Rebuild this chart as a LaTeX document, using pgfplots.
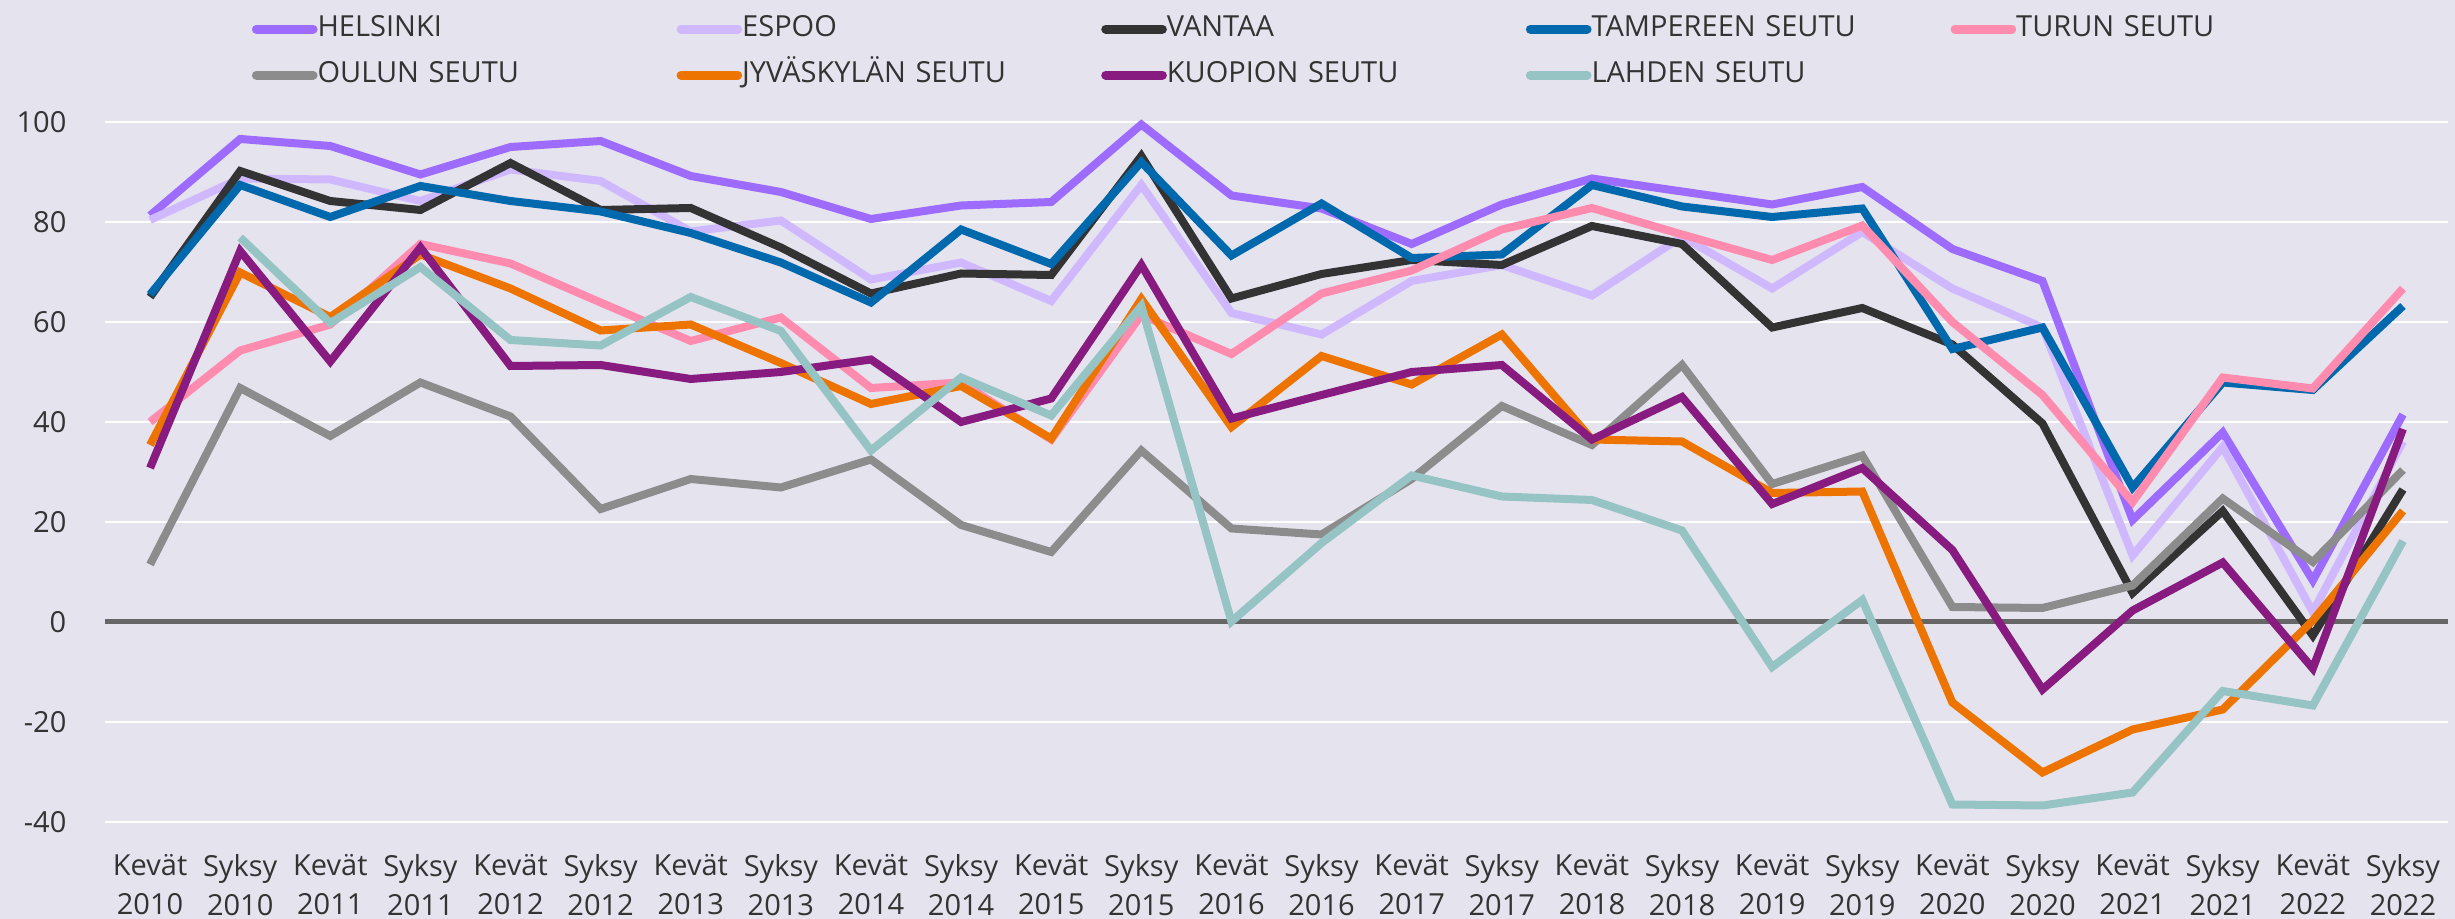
\documentclass[border=0pt]{standalone}
\usepackage{pgfplots}
\usepackage{pgfplotstable}
\usepackage{fontspec}
\setmainfont{Open Sans}
\pgfplotsset{compat=1.18}
\definecolor{bg}{HTML}{E5E3EE}
\definecolor{txt}{HTML}{333333}
\definecolor{cHel}{HTML}{9E6BFF}
\definecolor{cEsp}{HTML}{D0B8FF}
\definecolor{cVan}{HTML}{333333}
\definecolor{cTam}{HTML}{0069AE}
\definecolor{cTur}{HTML}{FF8BAE}
\definecolor{cOul}{HTML}{8C8C8C}
\definecolor{cJyv}{HTML}{EE7402}
\definecolor{cKuo}{HTML}{871B7F}
\definecolor{cLah}{HTML}{96C4C4}
\definecolor{zeroc}{HTML}{666666}

\pgfplotstableread{
x hel esp van tam tur oul jyv kuo lah
0 81.3 80.4 65.0 65.5 40.0 11.5 35.4 30.8 nan
1 96.6 88.7 90.2 87.4 54.3 46.8 69.9 74.2 76.9
2 95.2 88.5 84.2 81.0 59.5 37.2 61.0 52.1 59.8
3 89.5 84.2 82.4 87.2 75.6 47.9 73.5 74.9 71.0
4 95.0 90.5 91.8 84.2 71.7 41.1 66.7 51.2 56.4
5 96.2 88.2 82.4 82.1 63.9 22.6 58.3 51.4 55.3
6 89.2 78.1 82.8 77.8 56.2 28.6 59.5 48.6 65.0
7 86.0 80.3 74.9 71.9 60.9 26.9 51.8 50.0 58.2
8 80.6 68.5 65.7 63.9 46.8 32.5 43.6 52.5 34.3
9 83.3 71.9 69.7 78.5 47.9 19.4 47.2 40.0 48.9
10 84.0 64.2 69.4 71.6 36.5 14.0 36.7 44.7 41.3
11 99.5 87.4 93.2 92.0 61.4 34.3 64.6 71.4 63.2
12 85.3 61.8 64.7 73.3 53.6 18.7 39.0 40.7 0.1
13 82.7 57.5 69.6 83.7 65.7 17.5 53.2 45.4 15.8
14 75.6 68.2 72.4 72.8 70.3 28.6 47.5 50.0 29.3
15 83.5 71.4 71.4 73.5 78.5 43.2 57.5 51.4 25.1
16 88.7 65.3 79.2 87.4 82.8 35.4 36.5 36.5 24.4
17 86.1 77.1 75.6 83.1 77.5 51.4 36.1 45.0 18.3
18 83.5 66.7 58.9 81.0 72.4 27.6 25.8 23.6 -9.0
19 87.0 78.0 62.8 82.7 79.3 33.3 26.1 30.8 4.4
20 74.6 66.7 55.5 54.6 60.0 3.0 -16.1 14.4 -36.5
21 68.2 58.9 39.7 58.9 45.4 2.8 -30.1 -13.5 -36.7
22 20.4 13.3 5.8 26.9 24.0 7.3 -21.5 2.3 -34.1
23 37.9 35.0 22.2 47.9 48.9 24.7 -17.5 11.9 -13.8
24 8.3 2.0 -2.7 46.4 46.7 12.0 0.3 -9.3 -16.7
25 41.5 36.1 26.5 63.2 66.7 30.4 22.2 38.6 16.2
}\data

\begin{document}
\begin{tikzpicture}
\fill[bg] (0,0) rectangle (736.5pt,275.7pt);
\path[use as bounding box] (0,0) rectangle (736.5pt,275.7pt);
\begin{axis}[
  at={(31.5pt,29.1pt)}, anchor=south west,
  scale only axis, width=702.9pt, height=210pt,
  xmin=-0.5, xmax=25.5, ymin=-40, ymax=100,
  clip=false,
  axis line style={draw=none},
  tick style={draw=none},
  ytick={-40,-20,0,20,40,60,80,100},
  ymajorgrids, grid style={white, line width=0.6pt},
  xtick={0,...,25},
  xticklabels={{Kevät\\2010},{Syksy\\2010},{Kevät\\2011},{Syksy\\2011},{Kevät\\2012},{Syksy\\2012},{Kevät\\2013},{Syksy\\2013},{Kevät\\2014},{Syksy\\2014},{Kevät\\2015},{Syksy\\2015},{Kevät\\2016},{Syksy\\2016},{Kevät\\2017},{Syksy\\2017},{Kevät\\2018},{Syksy\\2018},{Kevät\\2019},{Syksy\\2019},{Kevät\\2020},{Syksy\\2020},{Kevät\\2021},{Syksy\\2021},{Kevät\\2022},{Syksy\\2022}},
  /pgf/number format/assume math mode=true,
  tick label style={font=\fontsize{8.7}{11.6}\selectfont, text=txt},
  xticklabel style={align=center, anchor=north, inner sep=0pt, yshift=-9.5pt},
  yticklabel style={anchor=east, inner sep=0pt, xshift=-11.4pt},
  unbounded coords=jump,
  every axis plot/.append style={line width=2.4pt},
  legend columns=5,
  legend image code/.code={\draw[#1, line width=2.7pt, line cap=round] (0pt,0pt) -- (17pt,0pt);},
  legend style={at={(0.0627,1.153)}, anchor=north west, draw=none, fill=none,
    inner sep=0pt, outer sep=0pt, text=txt,
    font=\fontsize{8.7}{10}\selectfont,
    nodes={inner sep=0pt, text height=6.5pt, text depth=2pt},
    row sep=5.3pt, column sep=0pt,
    /tikz/every even column/.append style={text width=107.7pt, align=left}},
]
\addplot[forget plot, color=zeroc, line width=1.5pt] coordinates {(-0.5,0) (25.5,0)};
\addplot[color=cHel] table[x=x, y=hel] {\data};
\addlegendentry{HELSINKI}
\addplot[color=cEsp] table[x=x, y=esp] {\data};
\addlegendentry{ESPOO}
\addplot[color=cVan] table[x=x, y=van] {\data};
\addlegendentry{VANTAA}
\addplot[color=cTam] table[x=x, y=tam] {\data};
\addlegendentry{TAMPEREEN SEUTU}
\addplot[color=cTur] table[x=x, y=tur] {\data};
\addlegendentry{TURUN SEUTU}
\addplot[color=cOul] table[x=x, y=oul] {\data};
\addlegendentry{OULUN SEUTU}
\addplot[color=cJyv] table[x=x, y=jyv] {\data};
\addlegendentry{JYVÄSKYLÄN SEUTU}
\addplot[color=cKuo] table[x=x, y=kuo] {\data};
\addlegendentry{KUOPION SEUTU}
\addplot[color=cLah] table[x=x, y=lah] {\data};
\addlegendentry{LAHDEN SEUTU}
\end{axis}
\end{tikzpicture}
\end{document}
